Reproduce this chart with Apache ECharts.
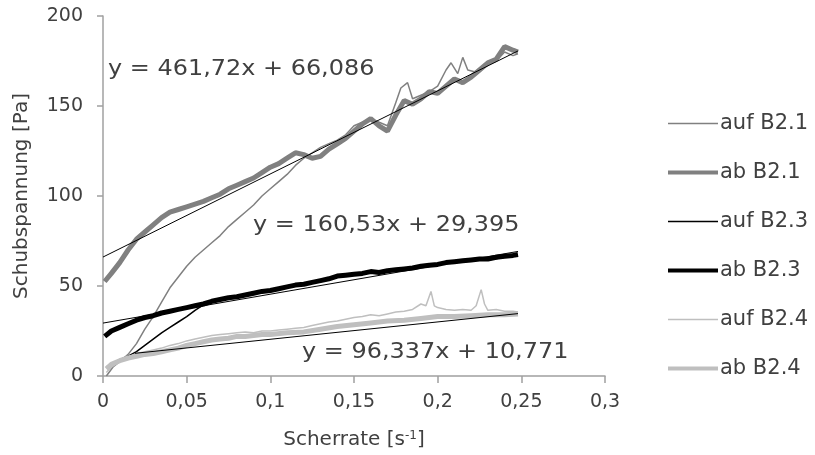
<!DOCTYPE html>
<html>
<head>
<meta charset="utf-8">
<script src="https://cdn.jsdelivr.net/npm/echarts@6/dist/echarts.min.js"></script>
<style>
html,body{margin:0;padding:0;background:#fff;}
#chart{width:815px;height:455px;}
</style>
</head>
<body>
<div id="chart"></div>
<script>
// ---- data ----
const seriesNames = ['auf B2.1', 'ab B2.1', 'auf B2.3', 'ab B2.3', 'auf B2.4', 'ab B2.4'];
const xTicks = [0, 0.05, 0.1, 0.15, 0.2, 0.25, 0.3];
const yTicks = [0, 50, 100, 150, 200];

const aufB21_x = [0.002,0.006,0.010,0.015,0.020,0.025,0.030,0.035,0.040,0.045,0.050,0.055,0.060,0.065,0.070,0.075,0.080,0.085,0.090,0.095,0.100,0.105,0.110,0.115,0.120,0.125,0.130,0.135,0.140,0.145,0.150,0.155,0.160,0.165,0.170,0.175,0.178,0.182,0.185,0.190,0.195,0.200,0.205,0.208,0.212,0.215,0.218,0.222,0.225,0.230,0.235,0.240,0.245,0.248];
const aufB21_y = [0,5,8,12,18,26,33,41,49,55,61,66,70,74,78,83,87,91,95,100,104,108,112,117,121,124,127,129,131,134,139,141,143,141,139,152,160,163,154,156,158,161,170,174,168,177,170,169,170,173,175,180,178,179];

const abB21_x = [0.001,0.005,0.010,0.015,0.020,0.025,0.030,0.035,0.040,0.045,0.050,0.055,0.060,0.065,0.070,0.075,0.080,0.085,0.090,0.095,0.100,0.105,0.110,0.115,0.120,0.125,0.130,0.135,0.140,0.145,0.150,0.155,0.160,0.165,0.170,0.175,0.180,0.185,0.190,0.195,0.200,0.205,0.210,0.215,0.220,0.225,0.230,0.235,0.240,0.245,0.248];
const abB21_y = [52.5,57,63,70,76,80,84,88,91,92.5,94,95.5,97,99,101,104,106,108,110,113,116,118,121,124,123,121,122,126,129,132,136,140,143,139,136,145,153,151,154,158,157,161,165,163,166,170,174,176,183,181,180];

const aufB23_x = [0.002,0.005,0.010,0.015,0.020,0.025,0.030,0.035,0.040,0.045,0.050,0.055,0.060,0.065,0.070,0.080,0.090,0.100,0.110,0.120,0.130,0.140,0.150,0.160,0.170,0.180,0.190,0.200,0.210,0.220,0.230,0.240,0.248];
const aufB23_y = [5,7,9,11,13.5,17,20.5,24,27,30,33,36.5,39.5,41.5,43,44.5,46.5,48,50,51.5,53,55.5,57,57.5,59,59.5,61,62,63,65,64.5,66,67];

const abB23_x = [0.001,0.005,0.010,0.015,0.020,0.025,0.030,0.035,0.040,0.045,0.050,0.055,0.060,0.065,0.070,0.075,0.080,0.085,0.090,0.095,0.100,0.105,0.110,0.115,0.120,0.125,0.130,0.135,0.140,0.145,0.150,0.155,0.160,0.165,0.170,0.175,0.180,0.185,0.190,0.195,0.200,0.205,0.210,0.215,0.220,0.225,0.230,0.235,0.240,0.245,0.248];
const abB23_y = [22,25,27,29,31,32.5,33.5,35,36,37,38,39,40,41.5,42.5,43.5,44,45,46,47,47.5,48.5,49.5,50.5,51,52,53,54,55.5,56,56.5,57,58,57.5,58.5,59,59.5,60,61,61.5,62,63,63.5,64,64.5,65,65,66,66.5,67,67.5];

const aufB24_x = [0.002,0.005,0.010,0.015,0.020,0.025,0.030,0.035,0.040,0.045,0.050,0.055,0.060,0.065,0.070,0.075,0.080,0.085,0.090,0.095,0.100,0.105,0.110,0.115,0.120,0.125,0.130,0.135,0.140,0.145,0.150,0.155,0.160,0.165,0.170,0.175,0.180,0.185,0.190,0.193,0.196,0.198,0.200,0.205,0.210,0.215,0.220,0.223,0.226,0.228,0.230,0.235,0.240,0.245,0.248];
const aufB24_y = [2,5,8,10.5,12.5,13.5,14.5,15.5,17,18,19.5,20.5,21.5,22.5,23,23.5,24,24.5,24,25,25,25.5,26,26.5,27,28,29,30,30.5,31.5,32.5,33,34,33.5,34.5,35.5,36,37,40,39,47,39,38,37,36.5,37,36.5,39,48,40,36.5,37,36,36,35.5];

const abB24_x = [0.002,0.005,0.010,0.015,0.020,0.025,0.030,0.035,0.040,0.045,0.050,0.055,0.060,0.065,0.070,0.075,0.080,0.085,0.090,0.095,0.100,0.110,0.120,0.130,0.140,0.150,0.160,0.170,0.180,0.190,0.200,0.210,0.220,0.230,0.240,0.248];
const abB24_y = [4,6.5,8.5,10,11,12,12.5,13.5,14.5,15.5,17,18,19,20,20.5,21,22,22,22.5,23,23,24,24.5,26,27.5,28.5,29.5,30.5,31,32,33,33,33.5,34,34,34.5];

// linear trend lines as printed on the chart
const trendSlopes = [461.72, 160.53, 96.337];
const trendIntercepts = [66.086, 29.395, 10.771];
const trendStart = [0, 0, 0.019];
const trendEnd = [0.248, 0.248, 0.248];
const trendLabels = ['y = 461,72x + 66,086', 'y = 160,53x + 29,395', 'y = 96,337x + 10,771'];

// ---- chart ----
const zip = (xs, ys) => xs.map((x, i) => [x, ys[i]]);
const FONT = 'DejaVu Sans';
const TXT = '#404040';
const seriesX = [aufB21_x, abB21_x, aufB23_x, abB23_x, aufB24_x, abB24_x];
const seriesY = [aufB21_y, abB21_y, aufB23_y, abB23_y, aufB24_y, abB24_y];
const colors = ['#808080', '#808080', '#000000', '#000000', '#bfbfbf', '#bfbfbf'];
const widths = [1.5, 5, 1.5, 5, 1.5, 5];

const series = seriesNames.map((n, i) => ({
  name: n, type: 'line', data: zip(seriesX[i], seriesY[i]),
  symbol: 'none', showSymbol: false, animation: false,
  lineStyle: { color: colors[i], width: widths[i] },
  itemStyle: { color: colors[i] }, z: 2
}));
trendSlopes.forEach((m, i) => {
  series.push({
    name: 'trend' + i, type: 'line', symbol: 'none', animation: false, z: 5,
    data: [[trendStart[i], m * trendStart[i] + trendIntercepts[i]], [trendEnd[i], m * trendEnd[i] + trendIntercepts[i]]],
    lineStyle: { color: '#000', width: 1 }, silent: true
  });
});

const legendData = seriesNames.map((n, i) => ({
  name: n,
  icon: widths[i] > 2 ? 'path://M0,0H50V4H0Z' : 'path://M0,0H50V1.6H0Z'
}));

const chart = echarts.init(document.getElementById('chart'), null, { renderer: 'canvas' });
chart.setOption({
  backgroundColor: '#fff',
  animation: false,
  textStyle: { fontFamily: FONT },
  grid: { left: 103, right: 210, top: 16, bottom: 79, containLabel: false },
  legend: {
    data: legendData, orient: 'vertical', left: 663, top: 108,
    itemWidth: 50, itemHeight: 20, itemGap: 28, symbolKeepAspect: true,
    textStyle: { fontFamily: FONT, fontSize: 21, lineHeight: 20, color: TXT, padding: [0, 0, 0, -3] }
  },
  xAxis: {
    type: 'value', min: 0, max: 0.3, interval: 0.05,
    name: 'Scherrate [s{sup|-1}]', nameLocation: 'middle', nameGap: 54,
    nameTextStyle: { fontFamily: FONT, fontSize: 20, color: TXT, rich: { sup: { fontSize: 12, verticalAlign: 'top', color: TXT, fontFamily: FONT } } },
    axisLine: { lineStyle: { color: '#a0a0a0', width: 1.5 } },
    axisTick: { show: true, length: 7, lineStyle: { color: '#a0a0a0', width: 1.5 } },
    splitLine: { show: false },
    axisLabel: { margin: 17, fontFamily: FONT, fontSize: 19, color: TXT,
      formatter: v => String(+v.toFixed(2)).replace('.', ',') }
  },
  yAxis: {
    type: 'value', min: 0, max: 200, interval: 50,
    name: 'Schubspannung [Pa]', nameLocation: 'middle', nameGap: 71,
    nameTextStyle: { fontFamily: FONT, fontSize: 20, color: TXT },
    axisLine: { show: true, lineStyle: { color: '#a0a0a0', width: 1.5 } },
    axisTick: { show: true, length: 6, lineStyle: { color: '#a0a0a0', width: 1.5 } },
    splitLine: { show: false },
    axisLabel: { margin: 20, fontFamily: FONT, fontSize: 19, color: TXT }
  },
  graphic: [
    { type: 'text', left: 108, top: 59, z: 10, scaleX: 1.14, style: { text: trendLabels[0], font: '21px "DejaVu Sans"', fill: TXT } },
    { type: 'text', left: 253, top: 215, z: 10, scaleX: 1.14, style: { text: trendLabels[1], font: '21px "DejaVu Sans"', fill: TXT } },
    { type: 'text', left: 302, top: 342, z: 10, scaleX: 1.14, style: { text: trendLabels[2], font: '21px "DejaVu Sans"', fill: TXT } }
  ],
  series: series
});
</script>
</body>
</html>
